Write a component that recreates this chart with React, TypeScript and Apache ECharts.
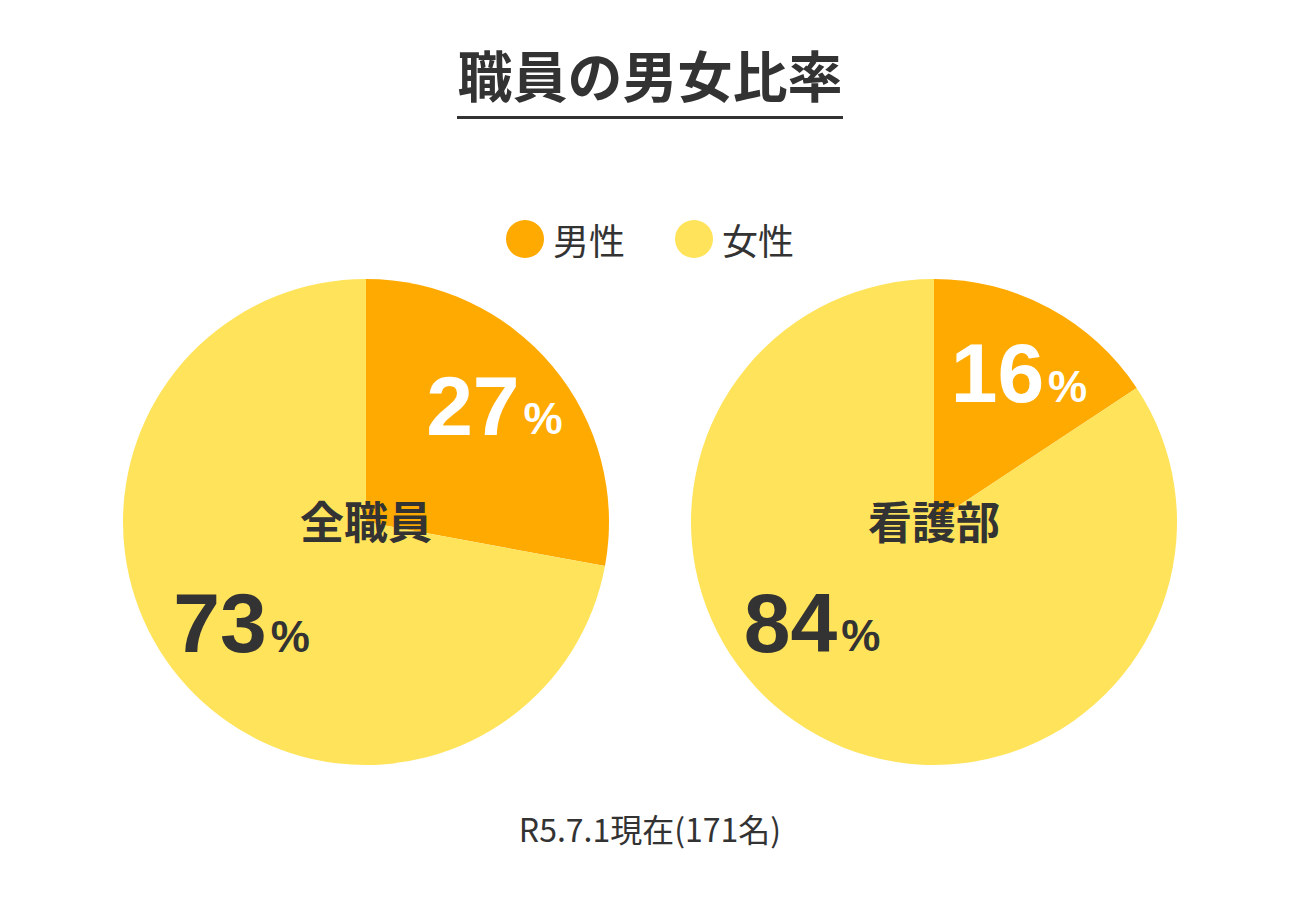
import React, { useEffect, useRef } from "react";
import * as echarts from "echarts";

const TITLE = "職員の男女比率";
const FOOTNOTE = "R5.7.1現在(171名)";
const GENDERS = ["男性", "女性"];
const GROUPS = ["全職員", "看護部"];
// slice sizes as drawn (share of staff, %)
const MALE_SHARE = [27.9, 15.7];
const FEMALE_SHARE = [72.1, 84.3];
// printed percentage labels
const MALE_LABEL = ["27", "16"];
const FEMALE_LABEL = ["73", "84"];
const COLORS = ["#FFAA00", "#FFE35A"];

const CENTERS: [number, number][] = [
  [366, 522],
  [934, 522],
];
const RADIUS = 243;
const LABEL_OFFSETS: [number, number][][] = [
  [
    [-3, -10],
    [7, -11],
  ],
  [
    [4, -1],
    [-41, -53],
  ],
];
const TEXT = "#333333";
const JP = "'Noto Sans CJK JP', 'Noto Sans', sans-serif";
const NUM = "'Liberation Sans', Arial, sans-serif";

export default function App() {
  const ref = useRef<HTMLDivElement>(null);
  useEffect(() => {
    if (!ref.current) return;
    const chart = echarts.init(ref.current, null, { renderer: "svg" });

    const series: any[] = [];
    GROUPS.forEach((g, i) => {
      const data = [
        { name: GENDERS[0], value: MALE_SHARE[i], lbl: MALE_LABEL[i] },
        { name: GENDERS[1], value: FEMALE_SHARE[i], lbl: FEMALE_LABEL[i] },
      ];
      series.push({
        type: "pie",
        name: g,
        center: CENTERS[i],
        radius: [0, RADIUS],
        startAngle: 90,
        clockwise: true,
        silent: true,
        label: { show: false },
        labelLine: { show: false },
        itemStyle: { borderWidth: 0 },
        data: data.map((d, k) => ({
          name: d.name,
          value: d.value,
          itemStyle: { color: COLORS[k] },
        })),
      });
      // transparent label ring so labels sit at ~0.69 r
      series.push({
        type: "pie",
        name: g + "-label",
        center: CENTERS[i],
        radius: [93, RADIUS],
        startAngle: 90,
        clockwise: true,
        silent: true,
        z: 5,
        labelLine: { show: false },
        itemStyle: { color: "rgba(0,0,0,0)", borderWidth: 0 },
        emphasis: { disabled: true },
        data: data.map((d, k) => ({
          name: d.name,
          value: d.value,
          label: {
            show: true,
            position: "inside",
            formatter: "{n|" + d.lbl + "}{p|%}",
            offset: LABEL_OFFSETS[i][k],
            rich: {
              n: {
                fontSize: 84,
                fontWeight: "bold",
                fontFamily: NUM,
                color: k === 0 ? "#FFFFFF" : TEXT,
                lineHeight: 90,
                verticalAlign: "bottom",
              },
              p: {
                fontSize: 44,
                fontWeight: "bold",
                fontFamily: NUM,
                color: k === 0 ? "#FFFFFF" : TEXT,
                lineHeight: 90,
                verticalAlign: "bottom",
                padding: [0, 0, 7, 4],
              },
            },
          },
        })),
      });
    });

    chart.setOption({
      animation: false,
      backgroundColor: "#FFFFFF",
      title: {
        text: TITLE,
        left: "center",
        top: 40,
        textStyle: {
          fontSize: 55,
          fontWeight: "bold",
          color: TEXT,
          fontFamily: JP,
        },
      },
      legend: {
        top: 215,
        left: "center",
        icon: "circle",
        itemWidth: 38,
        itemHeight: 38,
        itemGap: 50,
        selectedMode: false,
        textStyle: {
          fontSize: 36,
          color: TEXT,
          fontFamily: JP,
          padding: [0, 0, 0, 4],
        },
        data: GENDERS.map((n, k) => ({ name: n, itemStyle: { color: COLORS[k] } })),
      },
      graphic: [
        {
          type: "rect",
          shape: { x: 457, y: 116, width: 386, height: 3 },
          style: { fill: TEXT },
        },
        ...GROUPS.map((g, i) => ({
          type: "text",
          x: CENTERS[i][0],
          y: CENTERS[i][1] - 2,
          z: 100,
          style: {
            text: g,
            fill: TEXT,
            fontSize: 44,
            fontWeight: "bold",
            fontFamily: JP,
            align: "center",
            verticalAlign: "middle",
          },
        })),
        {
          type: "text",
          x: 650,
          y: 828,
          style: {
            text: FOOTNOTE,
            fill: TEXT,
            fontSize: 32,
            fontFamily: JP,
            align: "center",
            verticalAlign: "middle",
          },
        },
      ],
      series,
    });
    return () => chart.dispose();
  }, []);
  return (
    <div
      ref={ref}
      style={{ position: "absolute", left: 0, top: 0, width: 1300, height: 900 }}
    />
  );
}
